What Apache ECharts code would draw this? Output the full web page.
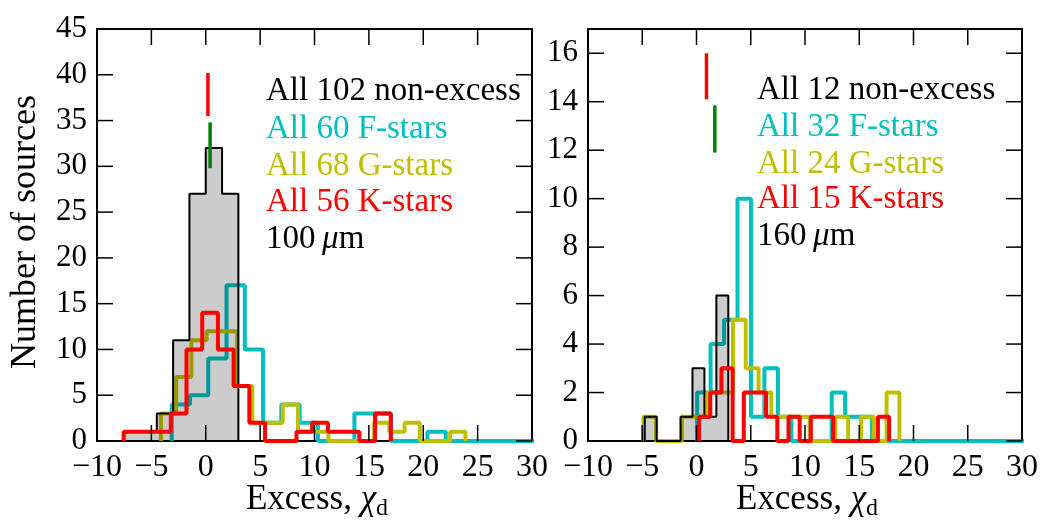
<!DOCTYPE html>
<html><head><meta charset="utf-8">
<script src="https://cdn.jsdelivr.net/npm/echarts@6/dist/echarts.min.js"></script>
<style>html,body{margin:0;padding:0;background:#fff}#c{width:1041px;height:521px}</style>
</head><body><div id="c"></div>
<script>
// ---------- DATA ----------
// Left panel: 100 micron. Each histogram = first bin edge, bin width, counts per bin
const leftGrayStart = -7.5,  leftGrayWidth = 1.5,
      leftGrayCounts = [1,1,3,11,27,32,27];
const leftCyanStart = -3.13, leftCyanWidth = 1.68,
      leftCyanCounts = [4,5,9,17,10,2,4,2,0,0,3,3,0,0,1,0,0,0,0,0];
const leftYellowStart = -4.12, leftYellowWidth = 1.4,
      leftYellowCounts = [3,7,11,12,12,6,2,2,4,1,1,0,0,0,2,1,2,0,0,1];
const leftRedStart = -7.55, leftRedWidth = 1.445,
      leftRedCounts = [1,1,1,3,10,14,10,6,2,0,0,1,2,1,1,0,3];
// marker bars [x, yFrom, yTo]
const leftRedMarker = [0.2, 35.5, 40.2];
const leftGreenMarker = [0.4, 29.8, 34.8];

// Right panel: 160 micron
const rightGrayStart = -4.77, rightGrayWidth = 1.1,
      rightGrayCounts = [1,0,0,1,3,1,6];
const rightCyanStart = 0.06, rightCyanWidth = 1.24,
      rightCyanCounts = [2,4,5,10,1,3,1,0,0,0,2,1,1,0,0,0,0,0,0,0,0,0,0,0,0];
const rightYellowStart = -4.9, rightYellowWidth = 1.18,
      rightYellowCounts = [1,0,0,1,1,2,2,5,3,2,1,1,1,0,0,1,0,1,0,2];
const rightRedStart = 0.24, rightRedWidth = 1.03,
      rightRedCounts = [1,2,3,0,2,2,1,0,1,0,1,1,0,0,0,0,1];
const rightRedMarker = [0.92, 14.1, 16.0];
const rightGreenMarker = [1.69, 11.9, 13.85];

// Ticks / axis ranges / labels
const xMin = -10, xMax = 30, xStep = 5;
const xTicks = [-10,-5,0,5,10,15,20,25,30];
const leftYMax = 45, leftYStep = 5;
const leftYTicks = [0,5,10,15,20,25,30,35,40,45];
const rightYMax = 17, rightYStep = 2;
const rightYTicks = [0,2,4,6,8,10,12,14,16];
const leftLegend = ['All 102 non-excess','All 60 F-stars','All 68 G-stars','All 56 K-stars'];
const rightLegend = ['All 12 non-excess','All 32 F-stars','All 24 G-stars','All 15 K-stars'];
const leftBand = '100', rightBand = '160';

// ---------- STYLE ----------
const FONT = 'Liberation Serif, serif';
const C_CYAN = '#00bfbf', C_YEL = '#bfbf00', C_RED = '#ff0000', C_GRN = '#008000';
const legendColors = ['#000000', C_CYAN, C_YEL, C_RED];
const PLOT_W = [435, 434], PLOT_H = 412, TICK_PX = 16;

function steps(start, width, counts){
  const pts = [[start, 0]];
  counts.forEach((c, i) => {
    const a = start + i * width, b = start + (i + 1) * width;
    pts.push([a, c], [b, c]);
  });
  pts.push([start + counts.length * width, 0]);
  return pts;
}
function hist(g, start, width, counts, color, lw, z, fill){
  const s = {
    type:'line', xAxisIndex:g*2, yAxisIndex:g*2, data:steps(start, width, counts),
    symbol:'none', showSymbol:false, animation:false, clip:true, z:z,
    lineStyle:{color:color, width:lw}
  };
  if (fill) s.areaStyle = {color:fill, opacity:1};
  return s;
}
function seg(g, p0, p1, color, w, z){
  return {type:'line', xAxisIndex:g*2, yAxisIndex:g*2, data:[p0, p1],
    symbol:'none', showSymbol:false, animation:false, clip:false, z:z,
    lineStyle:{color:color, width:w}};
}
function marker(g, m, color){ return seg(g, [m[0], m[1]], [m[0], m[2]], color, 3.5, 6); }
// inward tick marks on top, left and right (tick length 16 px converted to data units)
function tickSeries(g, yTicks, yMax){
  const ty = TICK_PX * yMax / PLOT_H, tx = TICK_PX * (xMax - xMin) / PLOT_W[g];
  const out = [];
  xTicks.forEach(v => out.push(seg(g, [v, yMax], [v, yMax - ty], '#000', 1.5, 8)));
  yTicks.forEach(v => {
    out.push(seg(g, [xMin, v], [xMin + tx, v], '#000', 1.5, 8));
    out.push(seg(g, [xMax, v], [xMax - tx, v], '#000', 1.5, 8));
  });
  return out;
}
const spine = () => ({show:true, onZero:false, lineStyle:{color:'#000', width:2}});

function xAxes(g){
  return [
    {gridIndex:g, type:'value', min:xMin, max:xMax, interval:xStep, position:'bottom',
      splitLine:{show:false}, axisLine:spine(), axisTick:{show:false},
      axisLabel:{show:true, margin:11, fontFamily:FONT, fontSize:32, color:'#000',
        formatter:v => String(v).replace('-', '\u2212')}},
    {gridIndex:g, type:'value', min:xMin, max:xMax, interval:xStep, position:'top',
      splitLine:{show:false}, axisLine:spine(), axisTick:{show:false}, axisLabel:{show:false}}
  ];
}
function yAxes(g, max, step){
  return [
    {gridIndex:g, type:'value', min:0, max:max, interval:step, position:'left',
      splitLine:{show:false}, axisLine:spine(), axisTick:{show:false},
      axisLabel:{show:true, margin:10, fontFamily:FONT, fontSize:31, color:'#000',
        showMaxLabel:(max % step === 0)}},
    {gridIndex:g, type:'value', min:0, max:max, interval:step, position:'right',
      splitLine:{show:false}, axisLine:spine(), axisTick:{show:false}, axisLabel:{show:false}}
  ];
}

const series = [
  hist(0, leftCyanStart, leftCyanWidth, leftCyanCounts, C_CYAN, 4, 2),
  hist(0, leftYellowStart, leftYellowWidth, leftYellowCounts, C_YEL, 4, 3),
  hist(0, leftGrayStart, leftGrayWidth, leftGrayCounts, '#000', 2, 4, 'rgba(0,0,0,0.2)'),
  hist(0, leftRedStart, leftRedWidth, leftRedCounts, C_RED, 4, 5),
  marker(0, leftRedMarker, C_RED), marker(0, leftGreenMarker, C_GRN),
  ...tickSeries(0, leftYTicks, leftYMax),
  hist(1, rightCyanStart, rightCyanWidth, rightCyanCounts, C_CYAN, 4, 2),
  hist(1, rightYellowStart, rightYellowWidth, rightYellowCounts, C_YEL, 4, 3),
  hist(1, rightGrayStart, rightGrayWidth, rightGrayCounts, '#000', 2, 4, 'rgba(0,0,0,0.2)'),
  hist(1, rightRedStart, rightRedWidth, rightRedCounts, C_RED, 4, 5),
  marker(1, rightRedMarker, C_RED), marker(1, rightGreenMarker, C_GRN),
  ...tickSeries(1, rightYTicks, rightYMax)
];

const xLabelRich = {i:{fontStyle:'italic', fontSize:35, fontFamily:FONT}, s:{fontSize:24, fontFamily:FONT, padding:[17,0,0,0]}};
const graphics = [
  {type:'text', x:26, y:232, rotation:Math.PI/2, z:100,
    style:{text:'Number of sources', font:'36px ' + FONT, fill:'#000', align:'center', verticalAlign:'middle'}},
  {type:'text', x:317, y:500, z:100,
    style:{text:'Excess, {i|\u03c7}{s|d}', font:'35px ' + FONT, fill:'#000', align:'center', verticalAlign:'middle', rich:xLabelRich}},
  {type:'text', x:807, y:500, z:100,
    style:{text:'Excess, {i|\u03c7}{s|d}', font:'35px ' + FONT, fill:'#000', align:'center', verticalAlign:'middle', rich:xLabelRich}}
];
function legendBlock(x, ys, lines, band){
  const out = lines.map((t, i) => ({type:'text', x:x, y:ys[i], z:100,
    style:{text:t, fill:legendColors[i], font:'33px ' + FONT, align:'left', verticalAlign:'middle'}}));
  out.push({type:'text', x:x, y:ys[4], z:100,
    style:{text:band + '\u2009{i|\u03bc}m', font:'33px ' + FONT, fill:'#000', align:'left', verticalAlign:'middle',
      rich:{i:{fontStyle:'italic', fontSize:33, fontFamily:FONT}}}});
  return out;
}
graphics.push(...legendBlock(266, [91,129,166,202.5,239], leftLegend, leftBand));
graphics.push(...legendBlock(757, [90.5,127,164,199.7,236.5], rightLegend, rightBand));

const chart = echarts.init(document.getElementById('c'));
chart.setOption({
  animation:false,
  grid:[{left:97, top:29, width:PLOT_W[0], height:PLOT_H}, {left:588, top:29, width:PLOT_W[1], height:PLOT_H}],
  xAxis:[...xAxes(0), ...xAxes(1)],
  yAxis:[...yAxes(0, leftYMax, leftYStep), ...yAxes(1, rightYMax, rightYStep)],
  series:series,
  graphic:graphics
});

// bottom inward ticks, placed through the axes' own scales after layout
const bottomTicks = [];
[0, 1].forEach(g => {
  xTicks.forEach(v => {
    const p = chart.convertToPixel({xAxisIndex:g*2, yAxisIndex:g*2}, [v, 0]);
    bottomTicks.push({type:'line', z:150, silent:true,
      shape:{x1:p[0], y1:p[1], x2:p[0], y2:p[1] - TICK_PX},
      style:{stroke:'#000', lineWidth:1.5}});
  });
});
chart.setOption({graphic:graphics.concat(bottomTicks)});
</script></body></html>
